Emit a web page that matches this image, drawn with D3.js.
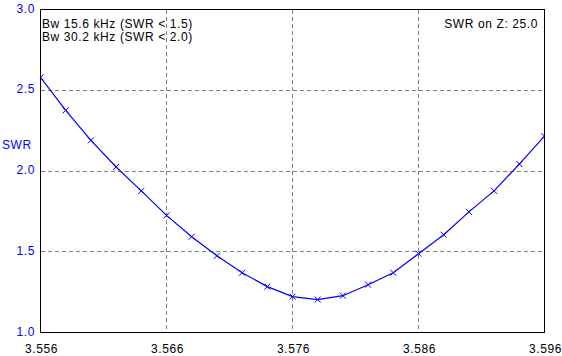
<!DOCTYPE html>
<html>
<head>
<meta charset="utf-8">
<script src="https://cdn.jsdelivr.net/npm/d3@7"></script>
<style>
  body { margin: 0; background: #fff; }
  svg { display: block; font-family: "Liberation Sans", Arial, sans-serif; }
</style>
</head>
<body>
<svg id="chart"></svg>
<script>
// frequency in MHz, one point every 2 kHz
const freqs = d3.range(21).map(i => +(3.556 + i * 0.002).toFixed(3));
const swr = [2.58, 2.376, 2.19, 2.025, 1.877, 1.725, 1.593, 1.475, 1.37, 1.284,
  1.222, 1.204, 1.228, 1.296, 1.37, 1.488, 1.605, 1.747, 1.877, 2.043, 2.216];
const xTicks = [3.556, 3.566, 3.576, 3.586, 3.596];
const yTicks = [1.0, 1.5, 2.0, 2.5, 3.0];
const notes = ['Bw 15.6 kHz (SWR < 1.5)', 'Bw 30.2 kHz (SWR < 2.0)'];
const zNote = 'SWR on Z: 25.0';

const width = 562, height = 356;
const marginLeft = 40.5, marginRight = 17.5, marginTop = 9.5, marginBottom = 23.5;

const x = d3.scaleLinear([3.556, 3.596], [marginLeft, width - marginRight]);
const y = d3.scaleLinear([1, 3], [height - marginBottom, marginTop]);

const svg = d3.select('#chart')
  .attr('width', width)
  .attr('height', height)
  .attr('viewBox', [0, 0, width, height]);

svg.append('defs').append('clipPath')
  .attr('id', 'plotClip')
  .append('rect')
  .attr('x', marginLeft)
  .attr('y', marginTop)
  .attr('width', x.range()[1] - marginLeft)
  .attr('height', y.range()[0] - marginTop);

// Grid
svg.append('g')
  .attr('stroke', '#808080')
  .attr('stroke-dasharray', '4,3')
  .attr('shape-rendering', 'crispEdges')
  .call(g => g.selectAll('.v')
    .data(xTicks.slice(1, -1))
    .join('line')
    .attr('x1', d => x(d)).attr('x2', d => x(d))
    .attr('y1', marginTop).attr('y2', y(1)))
  .call(g => g.selectAll('.h')
    .data(yTicks.slice(1, -1))
    .join('line')
    .attr('x1', marginLeft).attr('x2', x.range()[1])
    .attr('y1', d => y(d)).attr('y2', d => y(d)));

// Frame
svg.append('rect')
  .attr('x', marginLeft)
  .attr('y', marginTop)
  .attr('width', x.range()[1] - marginLeft)
  .attr('height', y.range()[0] - marginTop)
  .attr('fill', 'none')
  .attr('stroke', '#000')
  .attr('shape-rendering', 'crispEdges');

// Y axis labels
svg.append('g')
  .attr('fill', '#0000ff')
  .style('font-size', '12px')
  .style('letter-spacing', '0.6px')
  .attr('text-anchor', 'end')
  .selectAll('text')
  .data(yTicks)
  .join('text')
  .attr('x', 35)
  .attr('y', d => y(d) - 1)
  .attr('dy', '0.35em')
  .text(d => d.toFixed(1));

svg.append('text')
  .attr('x', 2)
  .attr('y', 145)
  .attr('dy', '0.35em')
  .attr('fill', '#0000ff')
  .style('font-size', '12px')
  .style('letter-spacing', '0.6px')
  .text('SWR');

// X axis labels
svg.append('g')
  .attr('fill', '#000')
  .style('font-size', '12px')
  .style('letter-spacing', '0.6px')
  .attr('text-anchor', 'middle')
  .selectAll('text')
  .data(xTicks)
  .join('text')
  .attr('x', d => x(d) + 1)
  .attr('y', 353)
  .text(d => d.toFixed(3));

// Curve
const plot = svg.append('g').attr('clip-path', 'url(#plotClip)');
const pts = freqs.map((f, i) => [x(f), y(swr[i])]);

plot.append('path')
  .attr('d', d3.line()(pts))
  .attr('fill', 'none')
  .attr('stroke', '#0000ff')
  .attr('stroke-width', 1.2);

plot.append('g')
  .attr('stroke', '#0000ff')
  .selectAll('path')
  .data(pts)
  .join('path')
  .attr('d', ([px, py]) => `M${px - 3},${py - 3}L${px + 3},${py + 3}M${px - 3},${py + 3}L${px + 3},${py - 3}`);

// Notes
svg.append('g')
  .style('font-size', '12px')
  .style('letter-spacing', '0.6px')
  .selectAll('text')
  .data(notes)
  .join('text')
  .attr('x', 42)
  .attr('y', (d, i) => 28 + i * 13)
  .text(d => d);

svg.append('text')
  .attr('x', 538)
  .attr('y', 28)
  .attr('text-anchor', 'end')
  .style('font-size', '12px')
  .style('letter-spacing', '0.6px')
  .text(zNote);
</script>
</body>
</html>
